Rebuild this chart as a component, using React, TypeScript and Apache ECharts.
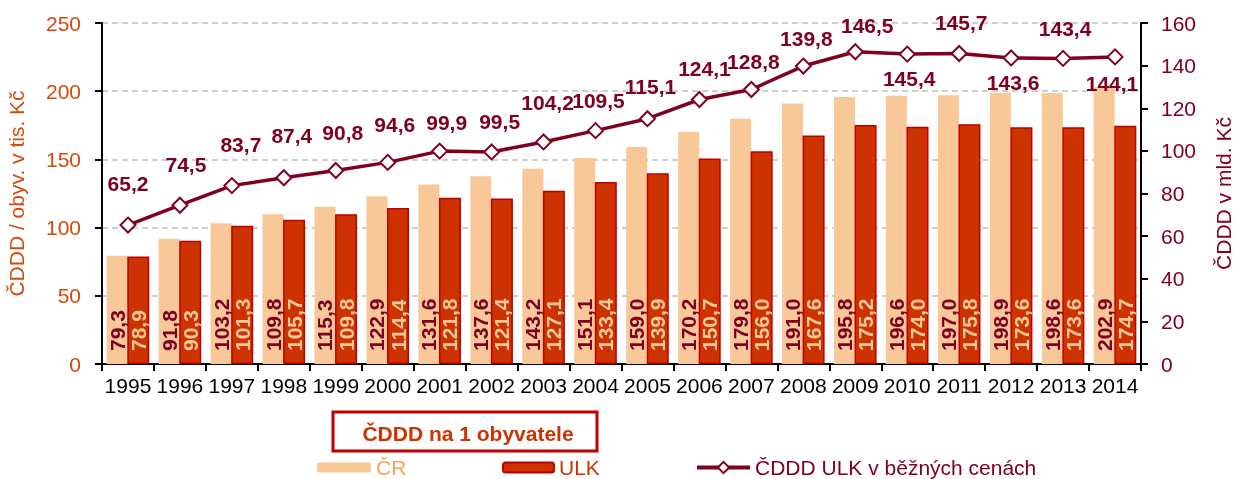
import React, { useEffect, useRef } from 'react';
import * as echarts from 'echarts';

const years = ['1995','1996','1997','1998','1999','2000','2001','2002','2003','2004','2005','2006','2007','2008','2009','2010','2011','2012','2013','2014'];
const crValues = [79.3, 91.8, 103.2, 109.8, 115.3, 122.9, 131.6, 137.6, 143.2, 151.1, 159.0, 170.2, 179.8, 191.0, 195.8, 196.6, 197.0, 198.9, 198.6, 202.9];
const ulkValues = [78.9, 90.3, 101.3, 105.7, 109.8, 114.4, 121.8, 121.4, 127.1, 133.4, 139.9, 150.7, 156.0, 167.6, 175.2, 174.0, 175.8, 173.6, 173.6, 174.7];
const lineValues = [65.2, 74.5, 83.7, 87.4, 90.8, 94.6, 99.9, 99.5, 104.2, 109.5, 115.1, 124.1, 128.8, 139.8, 146.5, 145.4, 145.7, 143.6, 143.4, 144.1];
const leftAxisMax = 250;
const leftAxisStep = 50;
const rightAxisMax = 160;
const rightAxisStep = 20;

// label placement for the line values (layout only)
const lineLabelOffsets: [number, number][] = [
  [0, -42], [6, -41], [9, -41], [8, -42], [7, -38], [7, -38], [7, -29], [8, -30], [4, -39], [3, -30],
  [3, -32], [5, -31], [2, -28], [3, -28], [12, -26], [2, 24], [2, -31], [2, 25], [2, -30], [-3, 27],
];

const fmt = (v: number) => v.toFixed(1).replace('.', ',');

const SANS = '"Liberation Sans", Arial, sans-serif';

const C_CR = '#F8C899';
const C_ULK = '#CC3300';
const C_ULK_BORDER = '#C00000';
const C_LINE = '#800020';
const C_LEFT = '#D44A0C';

export default function App() {
  const ref = useRef<HTMLDivElement>(null);
  useEffect(() => {
    if (!ref.current) return;
    const chart = echarts.init(ref.current, undefined, { renderer: 'svg' });
    const nameCR = 'ČR';
    const nameULK = 'ULK';
    const nameLine = 'ČDDD ULK v běžných cenách';
    chart.setOption({
      animation: false,
      textStyle: { fontFamily: SANS },
      grid: { left: 102, right: 93, top: 23, bottom: 115, outerBoundsMode: 'none', containLabel: false },
      legend: [
        {
          data: [nameCR], left: 317, top: 457, padding: 0, itemWidth: 54, itemHeight: 10, itemGap: 4,
          textStyle: { color: '#F2A65A', fontSize: 21 },
        },
        {
          data: [nameULK], left: 502, top: 457, padding: 0, itemWidth: 51, itemHeight: 10,
          textStyle: { color: C_ULK, fontSize: 21 },
        },
        {
          data: [nameLine], left: 695, top: 457, padding: 0, itemWidth: 53, itemHeight: 14,
          lineStyle: { width: 4, color: C_LINE },
          itemStyle: { color: '#ffffff', borderColor: C_LINE, borderWidth: 2 },
          textStyle: { color: C_LINE, fontSize: 21 },
        },
      ],
      graphic: [
        {
          type: 'rect',
          shape: { x: 333, y: 412, width: 264, height: 39 },
          style: { fill: '#ffffff', stroke: C_ULK_BORDER, lineWidth: 3 },
        },
        {
          type: 'text',
          x: 468, y: 433,
          style: {
            text: 'ČDDD na 1 obyvatele', fill: C_ULK, fontSize: 21, fontWeight: 'bold',
            fontFamily: SANS, align: 'center', verticalAlign: 'middle',
          },
        },
      ],
      xAxis: {
        type: 'category',
        data: years,
        axisLine: { lineStyle: { color: '#000', width: 2 } },
        axisTick: { show: true, length: 7, lineStyle: { color: '#000', width: 2 } },
        axisLabel: { color: '#000', fontSize: 21, margin: 11, interval: 0 },
      },
      yAxis: [
        {
          type: 'value', min: 0, max: leftAxisMax, interval: leftAxisStep, position: 'left',
          name: 'ČDDD / obyv. v tis. Kč', nameLocation: 'middle', nameRotate: 90, nameGap: 75,
          nameTextStyle: { color: C_LEFT, fontSize: 21 },
          axisLine: { show: true, lineStyle: { color: '#000', width: 2 } },
          axisTick: { show: true, length: 7, lineStyle: { color: '#000', width: 2 } },
          axisLabel: { color: C_LEFT, fontSize: 21, margin: 21 },
          splitLine: { show: true, lineStyle: { color: '#BFBFBF', type: [6, 4], width: 1.5 } },
        },
        {
          type: 'value', min: 0, max: rightAxisMax, interval: rightAxisStep, position: 'right',
          name: 'ČDDD v mld. Kč', nameLocation: 'middle', nameRotate: 90, nameGap: 72,
          nameTextStyle: { color: C_LINE, fontSize: 21 },
          axisLine: { show: true, lineStyle: { color: '#000', width: 2 } },
          axisTick: { show: true, length: 7, lineStyle: { color: '#000', width: 2 } },
          axisLabel: { color: C_LINE, fontSize: 21, margin: 20 },
          splitLine: { show: false },
        },
      ],
      series: [
        {
          name: nameCR, type: 'bar', yAxisIndex: 0, data: crValues,
          barWidth: 21, barGap: '-2%',
          itemStyle: { color: C_CR },
          label: {
            show: true, position: 'insideBottom', rotate: 90, align: 'left', verticalAlign: 'middle',
            distance: 13, color: C_LINE, fontSize: 21, fontWeight: 'bold',
            formatter: (p: any) => fmt(p.value),
          },
          z: 2,
        },
        {
          name: nameULK, type: 'bar', yAxisIndex: 0, data: ulkValues,
          barWidth: 22,
          itemStyle: { color: C_ULK, borderColor: C_ULK_BORDER, borderWidth: 1.5 },
          label: {
            show: true, position: 'insideBottom', rotate: 90, align: 'left', verticalAlign: 'middle',
            distance: 13, color: C_CR, fontSize: 21, fontWeight: 'bold',
            formatter: (p: any) => fmt(p.value),
          },
          z: 2,
        },
        {
          name: nameLine, type: 'line', yAxisIndex: 1,
          data: lineValues.map((v, i) => ({
            value: v,
            label: { offset: lineLabelOffsets[i] },
          })),
          symbol: 'diamond', symbolSize: 15,
          lineStyle: { color: C_LINE, width: 3.5 },
          itemStyle: { color: '#ffffff', borderColor: C_LINE, borderWidth: 2 },
          label: {
            show: true, position: 'inside', color: C_LINE, fontSize: 21, fontWeight: 'bold',
            formatter: (p: any) => fmt(p.value),
          },
          z: 5,
        },
      ],
    });
    return () => chart.dispose();
  }, []);
  return <div ref={ref} style={{ position: 'fixed', left: 0, top: 0, width: 1234, height: 479 }} />;
}
